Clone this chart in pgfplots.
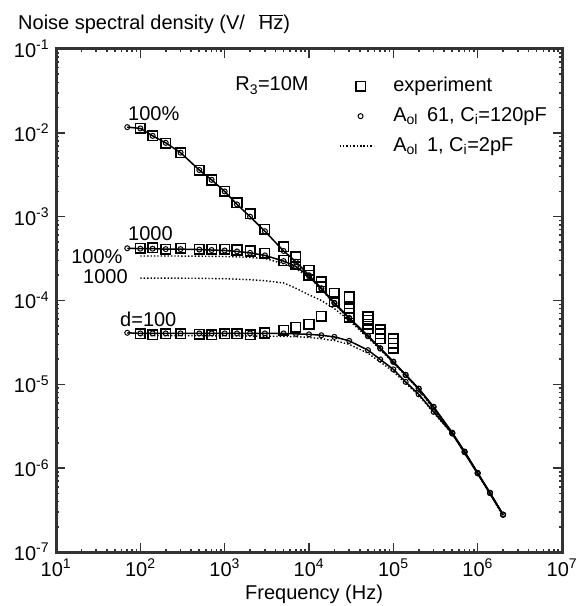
\documentclass[border=0pt]{standalone}
\usepackage{fontspec}
\setmainfont{Liberation Sans}
\usepackage{pgfplots}
\pgfplotsset{compat=1.18}
\usepackage{pgfplotstable}

% model A_ol 61, C_i=120pF (solid, circles)
\pgfplotstableread{
f v
70 1.17e-2
100 1.13e-2
140 9.2e-3
200 7.6e-3
300 5.8e-3
500 3.6e-3
700 2.75e-3
1000 2.0e-3
1400 1.40e-3
2000 1.0e-3
3000 6.7e-4
5000 3.9e-4
7000 2.9e-4
10000 2.0e-4
14000 1.40e-4
20000 9.4e-5
30000 6.2e-5
50000 3.8e-5
70000 2.7e-5
100000 1.87e-5
140000 1.3e-5
200000 8.9e-6
300000 5.4e-6
500000 2.65e-6
700000 1.58e-6
1000000 8.8e-7
1400000 5.1e-7
2000000 2.8e-7
}\topmodel
\pgfplotstableread{
f v
70 4.2e-4
100 4.15e-4
140 4.15e-4
200 4.1e-4
300 4.1e-4
500 4.05e-4
700 4.0e-4
1000 3.95e-4
1400 3.85e-4
2000 3.7e-4
3000 3.45e-4
5000 2.95e-4
7000 2.55e-4
10000 1.95e-4
14000 1.38e-4
20000 9.3e-5
30000 6.1e-5
50000 3.75e-5
70000 2.67e-5
100000 1.85e-5
140000 1.29e-5
200000 8.85e-6
300000 5.35e-6
500000 2.62e-6
700000 1.56e-6
1000000 8.7e-7
1400000 5.05e-7
2000000 2.78e-7
}\midmodel
\pgfplotstableread{
f v
70 4.12e-5
100 4.05e-5
140 4.05e-5
200 4.05e-5
300 4.05e-5
500 4.05e-5
700 4.05e-5
1000 4.05e-5
1400 4.05e-5
2000 4.05e-5
3000 4.05e-5
5000 4.05e-5
7000 4.0e-5
10000 3.95e-5
14000 3.85e-5
20000 3.68e-5
30000 3.3e-5
50000 2.56e-5
70000 1.98e-5
100000 1.51e-5
140000 1.07e-5
200000 7.6e-6
300000 4.7e-6
500000 2.58e-6
700000 1.55e-6
1000000 8.7e-7
1400000 5.05e-7
2000000 2.78e-7
}\botmodel
% model A_ol 1, C_i=2pF (dotted)
\pgfplotstableread{
f v
100 3.4e-4
200 3.4e-4
500 3.38e-4
1000 3.35e-4
2000 3.27e-4
3000 3.17e-4
5000 2.75e-4
7000 2.4e-4
10000 1.9e-4
14000 1.36e-4
20000 9.1e-5
30000 6.0e-5
50000 3.7e-5
70000 2.64e-5
100000 1.83e-5
200000 8.8e-6
500000 2.6e-6
1000000 8.6e-7
2000000 2.75e-7
}\topdot
\pgfplotstableread{
f v
100 1.85e-4
200 1.85e-4
500 1.84e-4
1000 1.82e-4
2000 1.77e-4
3000 1.72e-4
5000 1.62e-4
7000 1.4e-4
10000 1.17e-4
14000 1.0e-4
20000 8.0e-5
30000 5.8e-5
50000 3.6e-5
70000 2.6e-5
100000 1.8e-5
200000 8.7e-6
500000 2.58e-6
1000000 8.5e-7
2000000 2.72e-7
}\middot
\pgfplotstableread{
f v
100 3.8e-5
200 3.8e-5
500 3.8e-5
1000 3.78e-5
2000 3.77e-5
3000 3.76e-5
5000 3.73e-5
7000 3.7e-5
10000 3.63e-5
14000 3.5e-5
20000 3.33e-5
30000 3.0e-5
50000 2.35e-5
70000 1.85e-5
100000 1.42e-5
140000 1.03e-5
200000 7.4e-6
300000 4.6e-6
500000 2.55e-6
1000000 8.6e-7
2000000 2.75e-7
}\botdot
% experiment
\pgfplotstableread{
f v
100 1.13e-2
140 9.2e-3
200 7.55e-3
300 5.8e-3
500 3.57e-3
700 2.74e-3
1000 2.0e-3
1400 1.47e-3
2000 1.08e-3
3000 7.1e-4
5000 4.4e-4
7000 3.3e-4
10000 2.3e-4
14000 1.67e-4
20000 1.22e-4
30000 1.1e-4
100 4.2e-4
140 4.25e-4
200 4.1e-4
300 4.2e-4
500 4.1e-4
700 4.1e-4
1000 4.1e-4
1400 4.0e-4
2000 3.9e-4
3000 3.65e-4
5000 3.0e-4
7000 2.7e-4
10000 2.0e-4
14000 1.45e-4
20000 9.7e-5
30000 8.0e-5
30000 7.0e-5
30000 6.3e-5
50000 6.4e-5
50000 5.8e-5
50000 5.2e-5
50000 4.6e-5
70000 4.5e-5
70000 4.0e-5
70000 3.5e-5
100000 3.5e-5
100000 3.1e-5
100000 2.7e-5
100 4.0e-5
140 3.9e-5
200 4.0e-5
300 4.0e-5
500 3.95e-5
700 3.9e-5
1000 4.0e-5
1400 4.0e-5
2000 3.9e-5
3000 4.1e-5
5000 4.4e-5
7000 4.8e-5
10000 5.2e-5
14000 6.5e-5
}\expdata

\begin{document}
\fontsize{20}{24}\selectfont
\begin{tikzpicture}
\begin{axis}[
  xmode=log, ymode=log,
  scale only axis, width=506pt, height=503pt,
  xmin=10, xmax=1e7, ymin=1e-7, ymax=1e-1,
  xtick={1e1,1e2,1e3,1e4,1e5,1e6,1e7},
  xticklabels={10\textsuperscript{1},10\textsuperscript{2},10\textsuperscript{3},10\textsuperscript{4},10\textsuperscript{5},10\textsuperscript{6},10\textsuperscript{7}},
  ytick={1e-7,1e-6,1e-5,1e-4,1e-3,1e-2,1e-1},
  yticklabels={10\textsuperscript{-7},10\textsuperscript{-6},10\textsuperscript{-5},10\textsuperscript{-4},10\textsuperscript{-3},10\textsuperscript{-2},10\textsuperscript{-1}},
  minor xtick={}, minor ytick={},
  tick align=inside, major tick length=9pt,
  tick style={line width=1.6pt, black!80},
  axis line style={black!80},
  clip=false,
  legend cell align=left,
  legend image code/.code={\draw[mark repeat=2,mark phase=2,#1] plot coordinates {(0pt,0pt)(21pt,0pt)(34pt,0pt)};},
  legend style={draw=none, fill=none, inner sep=0pt, outer sep=0pt,
    at={(rel axis cs:0.559,0.944)}, anchor=north west,
    nodes={inner sep=0pt, text height=14pt, text depth=4pt},
    row sep=12pt,
    /tikz/every odd column/.append style={column sep=19pt}},
]
\addlegendimage{only marks, mark=square, mark size=4.8pt, mark options={line width=1.5pt}}
\addlegendentry{experiment}
\addlegendimage{only marks, mark=o, mark size=2.5pt, mark options={line width=1pt}}
\addlegendentry{A\textsubscript{ol}\hspace{9pt}61, C\textsubscript{i}=120pF}
\addlegendimage{black, dotted, line width=1.4pt}
\addlegendentry{A\textsubscript{ol}\hspace{9pt}1, C\textsubscript{i}=2pF}

\addplot[forget plot, black, dotted, line width=1.4pt] table {\topdot};
\addplot[forget plot, black, dotted, line width=1.4pt] table {\middot};
\addplot[forget plot, black, dotted, line width=1.4pt] table {\botdot};
\addplot[forget plot, black, line width=1.5pt, mark=o, mark size=2.5pt, mark options={solid, line width=1pt}] table {\topmodel};
\addplot[forget plot, black, line width=1.5pt, mark=o, mark size=2.5pt, mark options={solid, line width=1pt}] table {\midmodel};
\addplot[forget plot, black, line width=1.5pt, mark=o, mark size=2.5pt, mark options={solid, line width=1pt}] table {\botmodel};
\addplot[forget plot, only marks, black, mark=square, mark size=4.8pt, mark options={line width=1.5pt}] table {\expdata};

\draw[line width=3pt, black!80, line join=miter] (rel axis cs:0,0) rectangle (rel axis cs:1,1);

\node[anchor=base west, inner sep=0pt] at (axis cs:71.5,1.42e-2) {100\%};
\node[anchor=base west, inner sep=0pt] at (axis cs:71.5,5.26e-4) {1000};
\node[anchor=base west, inner sep=0pt] at (axis cs:15.1,2.79e-4) {100\%};
\node[anchor=base west, inner sep=0pt] at (axis cs:20.9,1.61e-4) {1000};
\node[anchor=base west, inner sep=0pt] at (axis cs:57.4,4.95e-5) {d=100};
\node[anchor=base west, inner sep=0pt] at (rel axis cs:0.354,0.9165) {R\textsubscript{3}=10M};
\node[anchor=base west, inner sep=0pt] at (rel axis cs:-0.0751,1.0378) {Noise spectral density (V/\hspace{14pt}$\overline{\mbox{Hz}}$)};
\node[anchor=base, inner sep=0pt] at ([yshift=-47pt]rel axis cs:0.51,0) {Frequency (Hz)};
\end{axis}
\path ([xshift=-56pt,yshift=-54pt]current axis.south west) rectangle ([xshift=16pt,yshift=49pt]current axis.north east);
\end{tikzpicture}
\end{document}
